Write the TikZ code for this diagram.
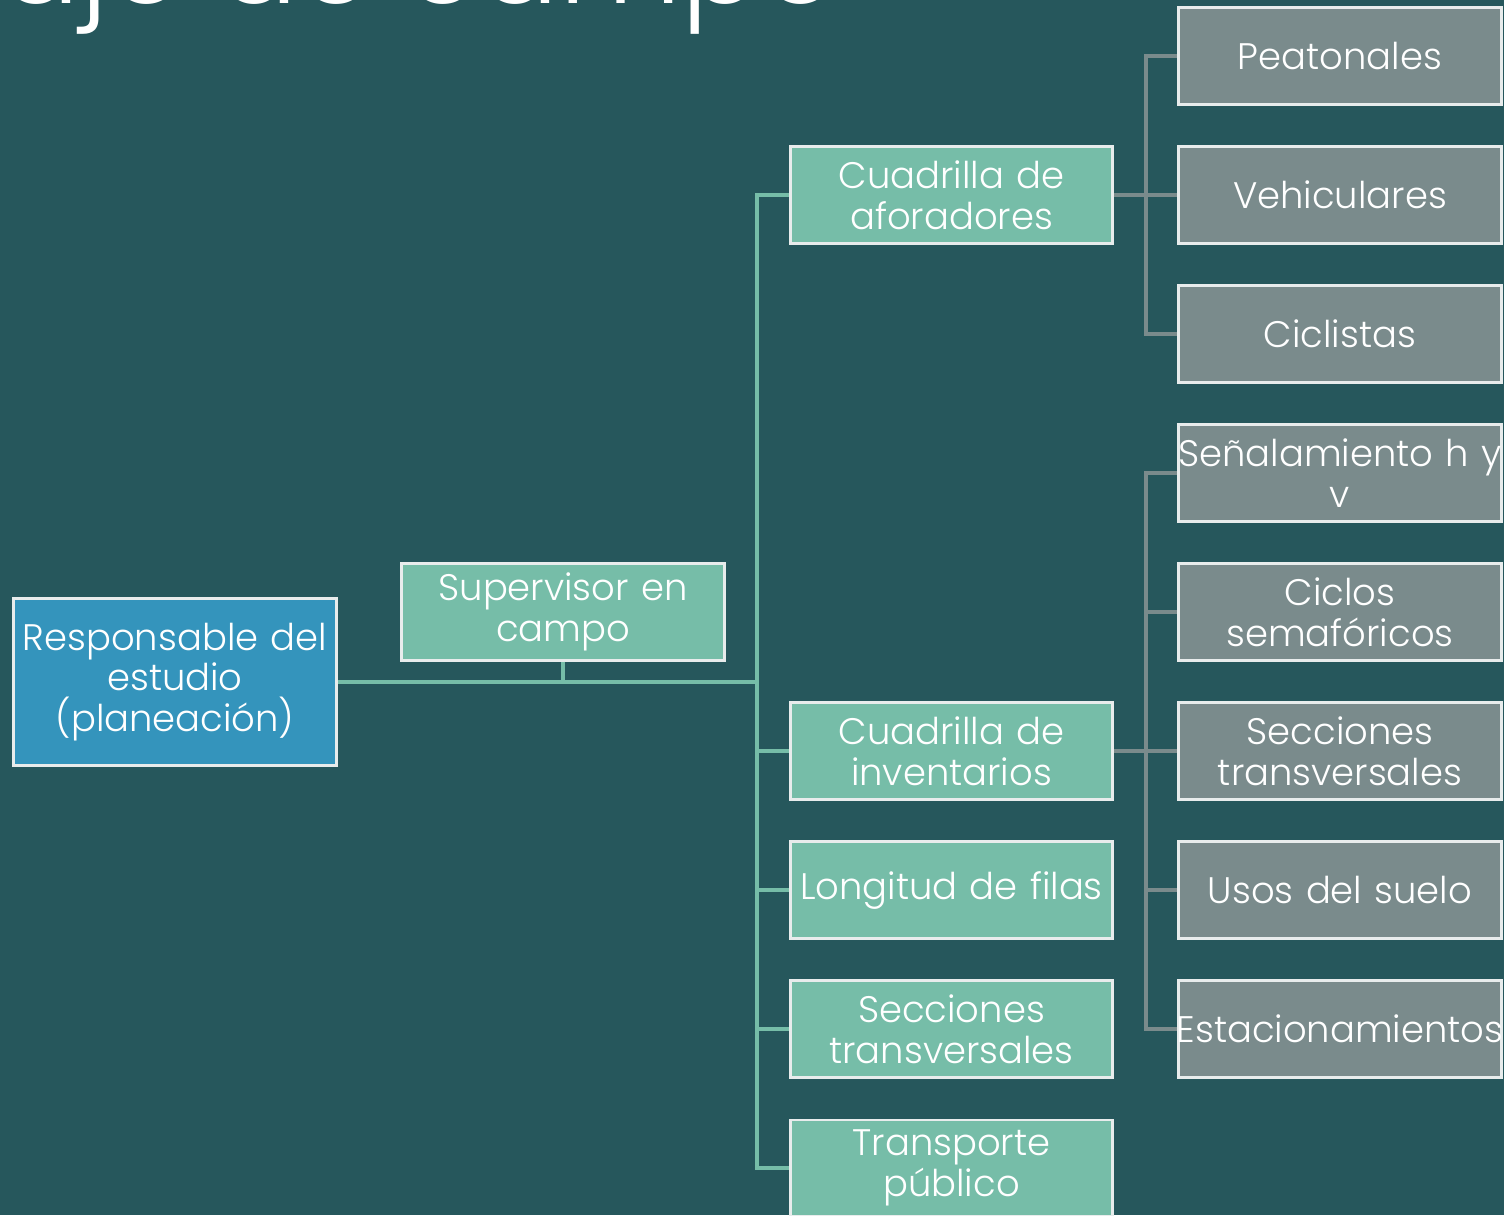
\documentclass[tikz,border=0pt]{standalone}
\usepackage{fontspec}
\setmainfont{Poppins}[UprightFont=* Light]
\definecolor{bgc}{RGB}{38,87,92}
\definecolor{greenc}{RGB}{118,189,168}
\definecolor{grayc}{RGB}{122,139,140}
\definecolor{bluec}{RGB}{52,148,188}
\definecolor{edgec}{RGB}{232,236,236}
\newcommand{\wide}[1]{\makebox[\linewidth]{#1}}
\begin{document}
\begin{tikzpicture}[x=0.01cm,y=-0.01cm,
  box/.style={draw=edgec,line width=0.85pt,minimum width=3.22cm,text width=3.22cm,minimum height=0.96cm,
    text=white,align=center,inner sep=0pt,font=\fontsize{10.5}{11.6}\selectfont},
  gbox/.style={box,fill=greenc},
  ybox/.style={box,fill=grayc},
  bbox/.style={box,fill=bluec,minimum height=1.66cm},
  gline/.style={draw=greenc,line width=1pt},
  yline/.style={draw=grayc,line width=1pt}]
\fill[bgc] (0,0) rectangle (1504,1215);
\useasboundingbox (0,0) rectangle (1504,1215);
\clip (0,0) rectangle (1504,1215);
\node[anchor=base east,text=white,inner sep=0pt,font=\fontsize{34}{40}\selectfont] (title) at (840,3) {Trabajo de campo};
% nodes
\node[bbox] (resp) at (175,682) {Responsable del\\estudio\\(planeación)};
\node[gbox] (sup) at (563,612) {Supervisor en\\campo};
\node[gbox] (afo) at (951.5,195) {Cuadrilla de\\aforadores};
\node[gbox] (inv) at (951.5,751) {Cuadrilla de\\inventarios};
\node[gbox] (lon) at (951.5,890) {\wide{Longitud de filas}};
\node[gbox] (sec) at (951.5,1029) {Secciones\\transversales};
\node[gbox] (tra) at (951.5,1168) {Transporte\\público};
\node[ybox] (pea) at (1340,56) {Peatonales};
\node[ybox] (veh) at (1340,195) {Vehiculares};
\node[ybox] (cic) at (1340,334) {Ciclistas};
\node[ybox] (sen) at (1340,473) {\wide{Señalamiento h y}\\v};
\node[ybox] (cis) at (1340,612) {Ciclos\\semafóricos};
\node[ybox] (st) at (1340,751) {Secciones\\transversales};
\node[ybox] (uso) at (1340,890) {Usos del suelo};
\node[ybox] (est) at (1340,1029) {\wide{Estacionamientos}};
% connectors
\coordinate (j1) at (757,682);
\coordinate (j2) at (1146,195);
\coordinate (j3) at (1146,751);
\draw[gline] (resp.east) -- (j1);
\draw[gline] (sup.south) -- (sup.south |- j1);
\draw[gline] (j1) |- (afo.west);
\draw[gline] (j1) |- (inv.west);
\draw[gline] (j1) |- (lon.west);
\draw[gline] (j1) |- (sec.west);
\draw[gline] (j1) |- (tra.west);
\draw[yline] (afo.east) -- (j2);
\draw[yline] (j2) |- (pea.west);
\draw[yline] (j2) |- (veh.west);
\draw[yline] (j2) |- (cic.west);
\draw[yline] (inv.east) -- (j3);
\draw[yline] (j3) |- (sen.west);
\draw[yline] (j3) |- (cis.west);
\draw[yline] (j3) |- (st.west);
\draw[yline] (j3) |- (uso.west);
\draw[yline] (j3) |- (est.west);
\end{tikzpicture}
\end{document}
